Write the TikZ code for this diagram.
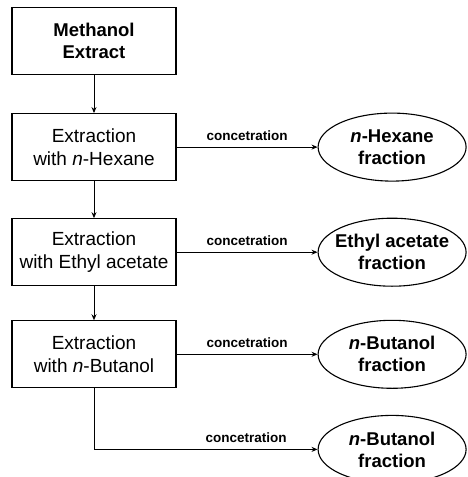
\documentclass[tikz,border=0pt]{standalone}
\usepackage{fontspec}
\setmainfont{Liberation Sans}
\usepackage{tikz}
\usetikzlibrary{positioning, arrows.meta, shapes.geometric}
\tikzstyle{stage} = [rectangle, draw, line width=1.1pt, minimum width=164pt, minimum height=67pt, align=center, font=\fontsize{19}{23}\selectfont]
\tikzstyle{fraction} = [ellipse, draw, line width=1.1pt, minimum width=148pt, minimum height=68pt, inner xsep=-12pt, inner ysep=0pt, align=center, font=\fontsize{18.5}{22}\selectfont\bfseries]
\tikzstyle{arrow} = [line width=0.9pt, -{Stealth[length=6pt,width=5pt]}]
\tikzstyle{textlabel} = [font=\fontsize{13.5}{15}\selectfont\bfseries, above=3pt]

\begin{document}
\begin{tikzpicture}[node distance=37pt and 141pt]
  \useasboundingbox (0pt,0pt) rectangle (467pt,-477pt);

  % Extraction steps
  \node (methanol) [stage, font=\fontsize{18.5}{22}\selectfont\bfseries] at (94pt,-41pt) {Methanol\\Extract};
  \node (hexane) [stage, below=38pt of methanol] {Extraction\\with \textit{n}-Hexane};
  \node (ethyl) [stage, below=of hexane] {Extraction\\with Ethyl acetate};
  \node (butanol) [stage, below=34pt of ethyl] {Extraction\\with \textit{n}-Butanol};

  % Fractions
  \node (f_hexane) [fraction, right=of hexane] {\textit{n}-Hexane\\fraction};
  \node (f_ethyl) [fraction, right=of ethyl] {Ethyl acetate\\fraction};
  \node (f_butanol) [fraction, right=of butanol] {\textit{n}-Butanol\\fraction};
  \node (f_water) [fraction, below=26pt of f_butanol] {\textit{n}-Butanol\\fraction};

  % Arrows (main flow)
  \draw[arrow] (methanol) -- (hexane);
  \draw[arrow] (hexane) -- (ethyl);
  \draw[arrow] (ethyl) -- (butanol);

  % Concentration
  \draw[arrow] (hexane) -- node[textlabel] {concetration} (f_hexane);
  \draw[arrow] (ethyl) -- node[textlabel] {concetration} (f_ethyl);
  \draw[arrow] (butanol) -- node[textlabel] {concetration} (f_butanol);
  \draw[arrow] (butanol.south) |- node[textlabel, pos=0.84] {concetration} (f_water.west);

\end{tikzpicture}
\end{document}
